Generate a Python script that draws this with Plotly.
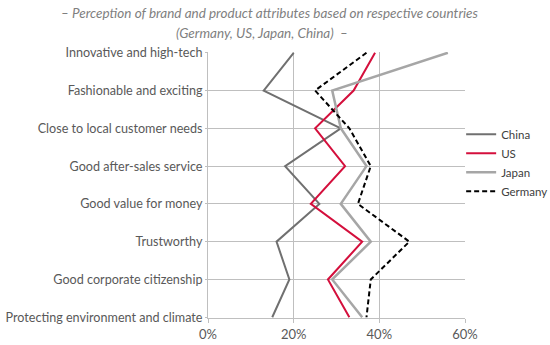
import plotly.graph_objects as go

categories = [
    "Innovative and high-tech",
    "Fashionable and exciting",
    "Close to local customer needs",
    "Good after-sales service",
    "Good value for money",
    "Trustworthy",
    "Good corporate citizenship",
    "Protecting environment and climate",
]

china = [20, 13, 31, 18, 26, 16, 19, 15]
us = [39, 34, 25, 32, 24, 36, 28, 33]
japan = [56, 29, 31, 37, 31, 38, 29, 36]
germany = [37, 25, 33, 38, 35, 47, 38, 37]

x_ticks = [0, 20, 40, 60]
x_tick_labels = ["0%", "20%", "40%", "60%"]

title_line1 = "– Perception of brand and product attributes based on respective countries"
title_line2 = "(Germany, US, Japan, China)  –"

series = [
    ("China", china, dict(color="#707070", width=2)),
    ("US", us, dict(color="#D40F3C", width=2)),
    ("Japan", japan, dict(color="#A6A6A6", width=2.5)),
    ("Germany", germany, dict(color="#000000", width=2, dash="5px,3px")),
]

FONT = "Lato, 'Open Sans', sans-serif"
fig = go.Figure()
for name, vals, line in series:
    fig.add_trace(go.Scatter(x=vals, y=categories, mode="lines", name=name, line=line))

fig.update_layout(
    width=550, height=345,
    margin=dict(l=208, r=85, t=52, b=27, autoexpand=False),
    paper_bgcolor="white", plot_bgcolor="white",
    font=dict(family=FONT, size=13, color="#595959"),
    legend=dict(
        x=0.985, xanchor="left", y=0.745, yanchor="top",
        font=dict(family=FONT, size=11.5, color="#404040"),
        bgcolor="rgba(0,0,0,0)",
    ),
    showlegend=True,
    annotations=[
        dict(text="<i>" + title_line1 + "</i>", xref="paper", yref="paper",
             x=0.241, y=1.147, xanchor="center", yanchor="middle", showarrow=False,
             font=dict(family=FONT, size=13.5, color="#7F7F7F")),
        dict(text="<i>" + title_line2 + "</i>", xref="paper", yref="paper",
             x=0.21, y=1.071, xanchor="center", yanchor="middle", showarrow=False,
             font=dict(family=FONT, size=13.5, color="#7F7F7F")),
    ],
)
fig.update_xaxes(
    range=[0, 60], tickvals=x_ticks, ticktext=x_tick_labels,
    showgrid=True, gridcolor="#BFBFBF", gridwidth=1,
    zeroline=False, showline=True, linecolor="#BFBFBF",
    ticks="outside", ticklen=4, tickcolor="#BFBFBF", automargin=False,
    tickfont=dict(family=FONT, size=13, color="#595959"),
)
fig.update_yaxes(
    type="category", categoryorder="array", categoryarray=categories,
    range=[7.02, -0.02],
    showgrid=True, gridcolor="#BFBFBF", gridwidth=1,
    zeroline=False, showline=True, linecolor="#BFBFBF",
    ticks="outside", ticklen=2, tickcolor="#BFBFBF", automargin=False,
    tickfont=dict(family=FONT, size=12.6, color="#595959"),
)

fig.write_html(
    "out.html",
    config={"displayModeBar": False},
    post_script="document.body.style.margin='0';document.body.style.overflow='hidden';",
)
